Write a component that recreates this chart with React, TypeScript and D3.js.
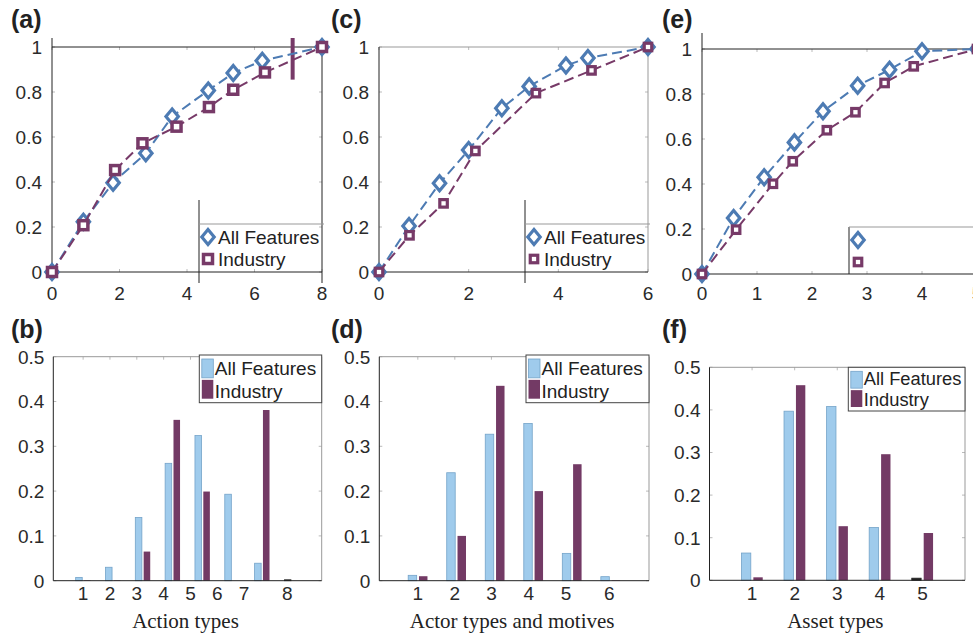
import React, { useRef, useEffect } from 'react';
import * as d3 from 'd3';

const BLUE = '#4d7bb3';
const PURPLE = '#773a68';
const BAR_BLUE = '#9fcbec';
const BAR_BLUE_EDGE = '#74a3c9';
const BAR_PURPLE = '#733a65';
const FONT = "'Liberation Sans', Arial, Helvetica, sans-serif";
const SERIF = "'Liberation Serif', 'Times New Roman', serif";

// (a) cumulative share, action types
const aAllX = [0, 0.93, 1.81, 2.78, 3.56, 4.63, 5.37, 6.23, 8];
const aAllY = [0, 0.223, 0.397, 0.528, 0.691, 0.807, 0.884, 0.939, 1];
const aIndX = [0, 0.93, 1.87, 2.68, 3.69, 4.65, 5.37, 6.31, 8];
const aIndY = [0, 0.208, 0.453, 0.572, 0.646, 0.733, 0.81, 0.887, 1];
const aXTicks = [0, 2, 4, 6, 8];

// (c) cumulative share, actor types
const cAllX = [0, 0.67, 1.35, 2.0, 2.74, 3.35, 4.17, 4.66, 6];
const cAllY = [0, 0.204, 0.394, 0.542, 0.728, 0.825, 0.918, 0.951, 1];
const cIndX = [0, 0.68, 1.44, 2.15, 3.5, 4.74, 6];
const cIndY = [0, 0.163, 0.305, 0.538, 0.795, 0.896, 1];
const cXTicks = [0, 2, 4, 6];

// (e) cumulative share, asset types
const eAllX = [0, 0.575, 1.13, 1.68, 2.2, 2.83, 3.41, 4.0, 5];
const eAllY = [0, 0.249, 0.43, 0.585, 0.723, 0.837, 0.908, 0.99, 1];
const eIndX = [0, 0.62, 1.29, 1.65, 2.27, 2.79, 3.32, 3.85, 5];
const eIndY = [0, 0.197, 0.401, 0.501, 0.639, 0.719, 0.849, 0.923, 1];
const eXTicks = [0, 1, 2, 3, 4, 5];

const cdfYTicks = [0, 0.2, 0.4, 0.6, 0.8, 1];

// (b) action types distribution
const bAll = [0.0074, 0.03, 0.141, 0.262, 0.324, 0.193, 0.039, 0.002];
const bInd = [0.001, 0.001, 0.065, 0.359, 0.199, 0, 0.381, 0];
const bTickPos = [1, 1.9, 2.8, 3.7, 4.6, 5.5, 6.4, 7.85];
const bTickLabels = ['1', '2', '3', '4', '5', '6', '7', '8'];

// (d) actor types and motives
const dAll = [0.012, 0.241, 0.327, 0.351, 0.061, 0.009];
const dInd = [0.01, 0.1, 0.435, 0.2, 0.26, 0.001];
const dTickPos = [1, 1.96, 2.91, 3.88, 4.85, 5.97];
const dTickLabels = ['1', '2', '3', '4', '5', '6'];

// (f) asset types
const fAll = [0.064, 0.397, 0.408, 0.124, 0.005];
const fInd = [0.007, 0.458, 0.127, 0.296, 0.111];
const fTickPos = [1, 2, 3, 4, 5];
const fTickLabels = ['1', '2', '3', '4', '5'];

const barYTicks = [0, 0.1, 0.2, 0.3, 0.4, 0.5];

const fmt = (v: number) => String(+v.toFixed(1));
const diamondPath = (w: number, h: number) => `M0,${-h}L${w},0L0,${h}L${-w},0Z`;

function addMarker(g: any, kind: string, cx: number, cy: number, big: boolean) {
  if (kind === 'diamond') {
    g.append('path')
      .attr('d', diamondPath(6.2, 7.5))
      .attr('transform', `translate(${cx},${cy})`)
      .attr('fill', 'white')
      .attr('stroke', BLUE)
      .attr('stroke-width', 3.2);
  } else {
    const s = big ? 9 : 7.5;
    g.append('rect')
      .attr('x', cx - s / 2).attr('y', cy - s / 2)
      .attr('width', s).attr('height', s)
      .attr('fill', 'white')
      .attr('stroke', PURPLE)
      .attr('stroke-width', big ? 3.5 : 3.2);
  }
}

function drawCdf(svg: any, p: any) {
  const x = d3.scaleLinear().domain([0, p.xMax]).range([p.x0, p.x1]);
  const y = d3.scaleLinear().domain([0, 1]).range([p.yBot, p.yTop]);
  const g = svg.append('g');

  // faint inner ticks
  p.xTicks.forEach((t: number) => {
    g.append('line').attr('x1', x(t)).attr('x2', x(t)).attr('y1', p.yBot).attr('y2', p.yBot - 3).attr('stroke', '#bbb');
    g.append('line').attr('x1', x(t)).attr('x2', x(t)).attr('y1', p.yTop).attr('y2', p.yTop + 3).attr('stroke', '#bbb');
  });
  cdfYTicks.forEach((t) => {
    g.append('line').attr('x1', p.x0).attr('x2', p.x0 + 3).attr('y1', y(t)).attr('y2', y(t)).attr('stroke', '#bbb');
    g.append('line').attr('x1', p.x1).attr('x2', p.x1 - 3).attr('y1', y(t)).attr('y2', y(t)).attr('stroke', '#bbb');
  });

  // box
  g.append('line').attr('x1', p.x0).attr('x2', p.x1).attr('y1', p.yTop).attr('y2', p.yTop).attr('stroke', p.boxColor);
  g.append('line').attr('x1', p.x1).attr('x2', p.x1).attr('y1', p.yTop).attr('y2', p.rightBottom).attr('stroke', p.boxColor);
  g.append('line').attr('x1', p.x0).attr('x2', p.x1).attr('y1', p.yBot).attr('y2', p.yBot).attr('stroke', '#222');
  g.append('line').attr('x1', p.x0).attr('x2', p.x0).attr('y1', p.axisTop).attr('y2', p.yBot).attr('stroke', '#222');

  // tick labels
  g.selectAll('.yt').data(cdfYTicks).enter().append('text')
    .attr('x', p.x0 - 10).attr('y', (d: number) => y(d)).attr('dy', '0.36em')
    .attr('text-anchor', 'end').attr('font-family', FONT).attr('font-size', 19).attr('fill', '#2a2a2a')
    .text((d: number) => fmt(d));
  g.selectAll('.xt').data(p.xTicks).enter().append('text')
    .attr('x', (d: number) => x(d)).attr('y', 300)
    .attr('text-anchor', 'middle').attr('font-family', FONT).attr('font-size', 19).attr('fill', '#2a2a2a')
    .text((d: number) => fmt(d));

  // panel label
  g.append('text').attr('x', p.labelX).attr('y', 28).attr('font-family', FONT).attr('font-weight', 'bold')
    .attr('font-size', 25).attr('fill', '#222').text(p.label);

  if (p.bar) {
    g.append('line')
      .attr('x1', x(p.bar.x)).attr('x2', x(p.bar.x))
      .attr('y1', y(p.bar.y0)).attr('y2', y(p.bar.y1))
      .attr('stroke', PURPLE).attr('stroke-width', 4);
  }

  p.series.forEach((s: any) => {
    const line = d3.line<number>().x((_, i) => x(s.xs[i])).y((d) => y(d));
    g.append('path').attr('d', line(s.ys)).attr('fill', 'none')
      .attr('stroke', s.color).attr('stroke-width', 2).attr('stroke-dasharray', '10,5');
    s.ys.forEach((v: number, i: number) => addMarker(g, s.marker, x(s.xs[i]), y(v), p.big));
  });

  // legend
  const L = p.legend;
  g.append('line').attr('x1', L.vx).attr('x2', L.vx).attr('y1', L.vTop).attr('y2', L.vBot).attr('stroke', '#222');
  g.append('line').attr('x1', L.vx).attr('x2', p.x1 + 2).attr('y1', L.hy).attr('y2', L.hy).attr('stroke', '#999');
  addMarker(g, 'diamond', L.vx + 9, L.hy + 13, p.big);
  addMarker(g, 'square', L.vx + 9, L.hy + 35, p.big);
  if (L.showText) {
    g.append('text').attr('x', L.vx + 19).attr('y', L.hy + 20).attr('font-family', FONT).attr('font-size', 19)
      .attr('fill', '#222').text('All Features');
    g.append('text').attr('x', L.vx + 19).attr('y', L.hy + 42).attr('font-family', FONT).attr('font-size', 19)
      .attr('fill', '#222').text('Industry');
  }
}

function drawBars(svg: any, p: any) {
  const n = p.all.length;
  const x = d3.scaleLinear().domain([0, n + 1]).range([p.x0, p.x1]);
  const y = d3.scaleLinear().domain([0, 0.5]).range([p.yBot, p.yTop]);
  const step = x(1) - x(0);
  const bw = step * 0.22;
  const off = step * 0.14;
  const g = svg.append('g');

  // faint ticks
  p.tickPos.forEach((t: number) => {
    g.append('line').attr('x1', x(t)).attr('x2', x(t)).attr('y1', p.yTop).attr('y2', p.yTop + 3).attr('stroke', '#bbb');
  });
  barYTicks.forEach((t) => {
    g.append('line').attr('x1', p.x0).attr('x2', p.x0 + 3).attr('y1', y(t)).attr('y2', y(t)).attr('stroke', '#bbb');
    g.append('line').attr('x1', p.x1).attr('x2', p.x1 - 3).attr('y1', y(t)).attr('y2', y(t)).attr('stroke', '#bbb');
  });

  g.append('line').attr('x1', p.x0).attr('x2', p.x1).attr('y1', p.yTop).attr('y2', p.yTop).attr('stroke', '#999');
  g.append('line').attr('x1', p.x1).attr('x2', p.x1).attr('y1', p.yTop).attr('y2', p.yBot).attr('stroke', '#999');

  const cats = d3.range(1, n + 1);
  g.selectAll('.ba').data(cats).enter().append('rect')
    .attr('x', (c: number) => x(c) - off - bw / 2)
    .attr('width', bw)
    .attr('y', (c: number) => y(p.all[c - 1]))
    .attr('height', (c: number) => p.yBot - y(p.all[c - 1]))
    .attr('fill', (c: number) => (p.all[c - 1] < 0.006 ? '#222' : BAR_BLUE))
    .attr('stroke', (c: number) => (p.all[c - 1] < 0.006 ? '#222' : BAR_BLUE_EDGE))
    .attr('stroke-width', 0.8);
  g.selectAll('.bi').data(cats).enter().append('rect')
    .attr('x', (c: number) => x(c) + off - bw / 2)
    .attr('width', bw)
    .attr('y', (c: number) => y(p.ind[c - 1]))
    .attr('height', (c: number) => p.yBot - y(p.ind[c - 1]))
    .attr('fill', BAR_PURPLE);

  g.append('line').attr('x1', p.x0).attr('x2', p.x1).attr('y1', p.yBot).attr('y2', p.yBot).attr('stroke', '#222');
  g.append('line').attr('x1', p.x0).attr('x2', p.x0).attr('y1', p.yTop).attr('y2', p.yBot).attr('stroke', '#222');

  g.selectAll('.yt').data(barYTicks).enter().append('text')
    .attr('x', p.x0 - 9).attr('y', (d: number) => y(d)).attr('dy', '0.36em')
    .attr('text-anchor', 'end').attr('font-family', FONT).attr('font-size', 19).attr('fill', '#2a2a2a')
    .text((d: number) => fmt(d));
  g.selectAll('.xt').data(p.tickPos).enter().append('text')
    .attr('x', (d: number) => x(d)).attr('y', 600)
    .attr('text-anchor', 'middle').attr('font-family', FONT).attr('font-size', 19).attr('fill', '#2a2a2a')
    .text((_: number, i: number) => p.tickLabels[i]);

  g.append('text').attr('x', (p.x0 + p.x1) / 2 - 2).attr('y', 628).attr('text-anchor', 'middle')
    .attr('font-family', SERIF).attr('font-size', 21).attr('fill', '#222').text(p.xlabel);

  g.append('text').attr('x', p.labelX).attr('y', 338).attr('font-family', FONT).attr('font-weight', 'bold')
    .attr('font-size', 25).attr('fill', '#222').text(p.label);

  // legend
  const L = p.legend;
  g.append('rect').attr('x', L.x).attr('y', L.y).attr('width', p.x1 - L.x).attr('height', L.h)
    .attr('fill', 'white').attr('stroke', '#444');
  const sh = (L.h - 10) / 2;
  g.append('rect').attr('x', L.x + 2.5).attr('y', L.y + 4).attr('width', 11.5).attr('height', sh)
    .attr('fill', BAR_BLUE).attr('stroke', BAR_BLUE_EDGE).attr('stroke-width', 0.8);
  g.append('rect').attr('x', L.x + 2.5).attr('y', L.y + 6 + sh).attr('width', 11.5).attr('height', sh)
    .attr('fill', BAR_PURPLE);
  g.append('text').attr('x', L.x + 15.5).attr('y', L.y + sh + 1).attr('font-family', FONT).attr('font-size', L.fs)
    .attr('fill', '#222').text('All Features');
  g.append('text').attr('x', L.x + 15.5).attr('y', L.y + L.h - 5).attr('font-family', FONT).attr('font-size', L.fs)
    .attr('fill', '#222').text('Industry');
}

const App = () => {
  const svgRef = useRef<SVGSVGElement>(null);

  useEffect(() => {
    if (!svgRef.current) return;
    const svg = d3.select(svgRef.current);
    svg.selectAll('*').remove();

    drawCdf(svg, {
      x0: 52, x1: 322, yTop: 47, yBot: 272, xMax: 8, xTicks: aXTicks, axisTop: 38, rightBottom: 283,
      boxColor: '#222', label: '(a)', labelX: 11, big: true,
      bar: { x: 7.13, y0: 0.855, y1: 1.04 },
      series: [
        { xs: aAllX, ys: aAllY, color: BLUE, marker: 'diamond' },
        { xs: aIndX, ys: aIndY, color: PURPLE, marker: 'square' },
      ],
      legend: { vx: 199, vTop: 200, vBot: 283, hy: 224, showText: true },
    });
    drawCdf(svg, {
      x0: 379, x1: 648, yTop: 47, yBot: 272, xMax: 6, xTicks: cXTicks, axisTop: 47, rightBottom: 272,
      boxColor: '#999', label: '(c)', labelX: 331, big: false,
      series: [
        { xs: cAllX, ys: cAllY, color: BLUE, marker: 'diamond' },
        { xs: cIndX, ys: cIndY, color: PURPLE, marker: 'square' },
      ],
      legend: { vx: 525, vTop: 200, vBot: 283, hy: 224, showText: true },
    });
    drawCdf(svg, {
      x0: 702, x1: 977, yTop: 49, yBot: 274, xMax: 5, xTicks: eXTicks, axisTop: 33, rightBottom: 274,
      boxColor: '#222', label: '(e)', labelX: 662, big: false,
      series: [
        { xs: eAllX, ys: eAllY, color: BLUE, marker: 'diamond' },
        { xs: eIndX, ys: eIndY, color: PURPLE, marker: 'square' },
      ],
      legend: { vx: 849, vTop: 227, vBot: 274, hy: 227, showText: false },
    });

    drawBars(svg, {
      x0: 53.3, x1: 321.7, yTop: 356.7, yBot: 580.7, all: bAll, ind: bInd,
      tickPos: bTickPos, tickLabels: bTickLabels, xlabel: 'Action types', label: '(b)', labelX: 11,
      legend: { x: 199.3, y: 355, h: 47.7, fs: 19 },
    });
    drawBars(svg, {
      x0: 379.3, x1: 649, yTop: 356.7, yBot: 580.7, all: dAll, ind: dInd,
      tickPos: dTickPos, tickLabels: dTickLabels, xlabel: 'Actor types and motives', label: '(d)', labelX: 331,
      legend: { x: 526, y: 355, h: 47.7, fs: 19 },
    });
    drawBars(svg, {
      x0: 709.5, x1: 965, yTop: 367.3, yBot: 580.3, all: fAll, ind: fInd,
      tickPos: fTickPos, tickLabels: fTickLabels, xlabel: 'Asset types', label: '(f)', labelX: 662,
      legend: { x: 848.3, y: 367.3, h: 43.7, fs: 18.3 },
    });
  }, []);

  return (
    <svg ref={svgRef} width={973} height={638}
      style={{ position: 'absolute', left: 0, top: 0, background: 'white' }} />
  );
};

export default App;
